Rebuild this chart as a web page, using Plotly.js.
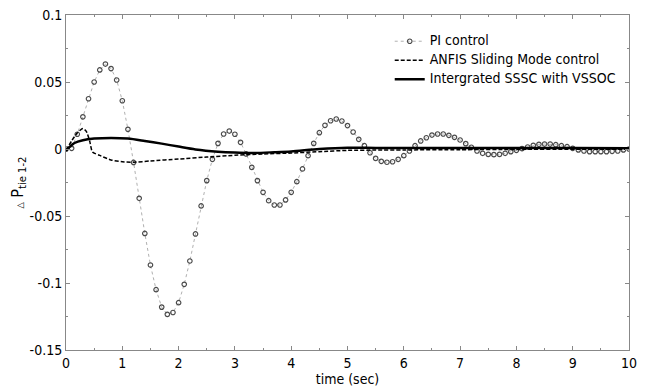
<!DOCTYPE html>
<html>
<head>
<meta charset="utf-8">
<script src="https://cdn.plot.ly/plotly-3.0.1.min.js"></script>
<style>html,body{margin:0;padding:0;background:#fff;}#chart{width:650px;height:392px;}</style>
</head>
<body>
<div id="chart"></div>
<script>
// PI control, sampled every 0.1 s
const piTime = [0,0.1,0.2,0.3,0.4,0.5,0.6,0.7,0.8,0.9,1.0,1.1,1.2,1.3,1.4,1.5,1.6,1.7,1.8,1.9,2.0,
  2.1,2.2,2.3,2.4,2.5,2.6,2.7,2.8,2.9,3.0,3.1,3.2,3.3,3.4,3.5,3.6,3.7,3.8,3.9,4.0,
  4.1,4.2,4.3,4.4,4.5,4.6,4.7,4.8,4.9,5.0,5.1,5.2,5.3,5.4,5.5,5.6,5.7,5.8,5.9,6.0,
  6.1,6.2,6.3,6.4,6.5,6.6,6.7,6.8,6.9,7.0,7.1,7.2,7.3,7.4,7.5,7.6,7.7,7.8,7.9,8.0,
  8.1,8.2,8.3,8.4,8.5,8.6,8.7,8.8,8.9,9.0,9.1,9.2,9.3,9.4,9.5,9.6,9.7,9.8,9.9,10.0];
const piValues = [0,
  0.0005,0.011,0.024,0.0375,0.05,0.059,0.0634,0.06,0.0515,0.036,
  0.0147,-0.01,-0.0368,-0.063,-0.0866,-0.105,-0.118,-0.1234,-0.122,-0.1147,
  -0.101,-0.0836,-0.0634,-0.0425,-0.0236,-0.0077,0.0042,0.0112,0.0134,0.011,
  0.005,-0.0037,-0.0137,-0.0236,-0.0323,-0.0386,-0.0418,-0.0418,-0.038,-0.0323,
  -0.0244,-0.0149,-0.005,0.0042,0.0122,0.0177,0.0211,0.0224,0.0209,0.0175,
  0.0127,0.0072,0.0025,-0.0028,-0.007,-0.0092,-0.0099,-0.0095,-0.0077,-0.005,
  -0.0015,0.0025,0.006,0.0084,0.0104,0.0112,0.0112,0.0102,0.0087,0.0067,
  0.004,0.0013,-0.0015,-0.0032,-0.004,-0.0042,-0.004,-0.0032,-0.002,-0.001,
  0.0003,0.0015,0.0027,0.0035,0.0037,0.0037,0.0032,0.0025,0.0017,0.0005,
  -0.0007,-0.0015,-0.002,-0.002,-0.002,-0.002,-0.0017,-0.0015,-0.0007,0];

// ANFIS Sliding Mode control
const anfisTime = [0,0.1,0.2,0.3,0.36,0.42,0.47,0.6,0.8,1.0,1.2,1.5,2.0,2.5,3.0,3.5,4.0,4.5,5.0,5.5,6.0,7.0,8.0,9.0,10.0];
const anfisValues = [-0.001,0.006,0.012,0.0153,0.0132,0.006,-0.0022,-0.0048,-0.0082,-0.0095,-0.0099,-0.0089,-0.0075,-0.006,-0.0047,-0.0037,-0.003,-0.002,-0.001,-0.0008,-0.0007,-0.0005,-0.0003,-0.0002,-0.0001];

// Intergrated SSSC with VSSOC
const ssscTime = [0,0.05,0.15,0.3,0.5,0.8,1.1,1.4,1.7,2.0,2.3,2.7,3.0,3.3,3.7,4.0,4.5,5.0,5.5,6.0,7.0,8.0,9.0,10.0];
const ssscValues = [-0.0015,0.001,0.0045,0.0066,0.0078,0.0083,0.0078,0.006,0.004,0.0018,-0.0003,-0.002,-0.0027,-0.003,-0.0024,-0.0018,0,0.001,0.0008,0.0008,0.0008,0.0008,0.0007,0.0006];

const seriesNames = ['PI control','ANFIS Sliding Mode control','Intergrated SSSC with VSSOC'];
const xTicks = [0,1,2,3,4,5,6,7,8,9,10];
const yTicks = [-0.15,-0.1,-0.05,0,0.05,0.1];
const yTickLabels = ['-0.15','-0.1','-0.05','0','0.05','0.1'];

const FONT = '"DejaVu Sans Condensed", "DejaVu Sans", sans-serif';
const legendName = n => '<span style="font-size:14px">' + n + '</span>';

const traces = [
  {x: piTime, y: piValues, name: legendName(seriesNames[0]), type: 'scatter', mode: 'lines+markers',
   line: {color: '#b0b0b0', width: 1, dash: 'dot'},
   marker: {symbol: 'circle-open', size: 4.5, color: '#4a4a4a', line: {width: 1.2, color: '#4a4a4a'}}},
  {x: anfisTime, y: anfisValues, name: legendName(seriesNames[1]), type: 'scatter', mode: 'lines',
   line: {color: '#000', width: 1.5, dash: '4px,2px', shape: 'spline', smoothing: 0.6}},
  {x: ssscTime, y: ssscValues, name: legendName(seriesNames[2]), type: 'scatter', mode: 'lines',
   line: {color: '#000', width: 2.5, shape: 'spline', smoothing: 0.8}}
];

const axisCommon = {
  showgrid: false, zeroline: false, showline: true, linecolor: '#888', linewidth: 1,
  mirror: 'ticks', ticks: 'inside', ticklen: 4, tickcolor: '#888',
  tickfont: {family: FONT, size: 14, color: '#000'}
};

const layout = {
  width: 650, height: 392,
  margin: {l: 66, r: 21, t: 15, b: 42},
  paper_bgcolor: '#fff', plot_bgcolor: '#fff',
  font: {family: FONT, size: 14, color: '#000'},
  showlegend: true,
  legend: {x: 0.575, y: 0.965, xanchor: 'left', yanchor: 'top', bgcolor: 'rgba(0,0,0,0)',
           borderwidth: 0, font: {family: FONT, size: 10, color: '#000'}, tracegroupgap: 0},
  xaxis: Object.assign({}, axisCommon, {
    range: [0, 10], tickvals: xTicks, ticktext: xTicks.map(String),
    minor: {ticks: 'inside', dtick: 0.5, ticklen: 2, tickcolor: '#888'},
    title: {text: 'time (sec)', font: {family: FONT, size: 14, color: '#000'}, standoff: 2}
  }),
  yaxis: Object.assign({}, axisCommon, {
    range: [-0.15, 0.1], tickvals: yTicks, ticktext: yTickLabels,
    minor: {ticks: 'inside', dtick: 0.025, ticklen: 2, tickcolor: '#888'},
    title: {text: '<span style="font-size:9px">△</span> P<sub>tie 1-2</sub>',
            font: {family: FONT, size: 16, color: '#000'}, standoff: 2}
  })
};

Plotly.newPlot('chart', traces, layout, {displayModeBar: false, staticPlot: true});
</script>
</body>
</html>
